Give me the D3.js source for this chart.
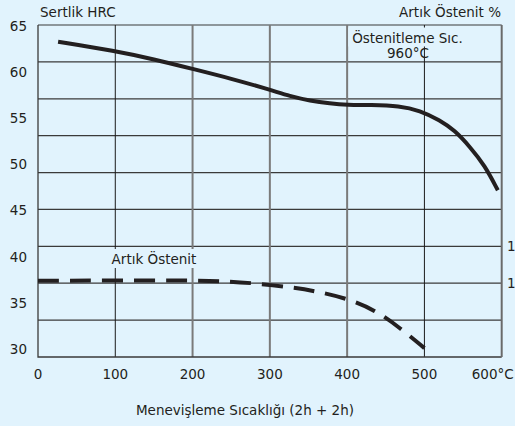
<!DOCTYPE html>
<html>
<head>
<meta charset="utf-8">
<script src="https://cdn.jsdelivr.net/npm/d3@7"></script>
<style>
  body { margin: 0; background: #e1f3fd; }
  svg { display: block; }
  text { font-family: "DejaVu Sans", Verdana, sans-serif; font-size: 13.5px; fill: #231f20; }
</style>
</head>
<body>
<div id="chart"></div>
<script>
// hardness curve (HRC) vs tempering temperature
var hardTemp = [26, 100, 150, 200, 250, 300, 326, 352, 378, 400, 430, 468, 494, 520, 539, 559, 578, 595];
var hardHRC  = [63.3, 62.3, 61.4, 60.35, 59.3, 58.1, 57.4, 56.9, 56.6, 56.45, 56.45, 56.35, 55.85, 54.8, 53.7, 51.9, 49.9, 47.2];

// retained austenite (%) vs tempering temperature
var austTemp = [0, 100, 200, 250, 289, 331, 358, 398, 436, 469, 500];
var austPct  = [10.35, 10.35, 10.4, 10.25, 9.9, 9.4, 8.95, 8.0, 6.4, 3.9, 1.2];

var xTicks = [0, 100, 200, 300, 400, 500];
var hrcTicks = [30, 35, 40, 45, 50, 55, 60, 65];
var pctTicks = [10, 15];
var pctLabels = ["1", "1"]; // only the first digit shows at the page edge

var width = 515, height = 426;
var bg = "#e1f3fd";

var svg = d3.select("#chart")
  .append("svg")
    .attr("width", width)
    .attr("height", height);

var x = d3.scaleLinear().domain([0, 600]).range([38, 501.7]);
var pct = d3.scaleLinear().domain([0, 45]).range([357, 25]);
var hrc = d3.scaleLinear().domain([30, 65]).range([349, 26]);

// horizontal grid (percentage scale)
svg.append("g")
  .selectAll("line")
  .data(d3.range(5, 50, 5))
  .enter()
  .append("line")
    .attr("x1", x(0))
    .attr("x2", x(600))
    .attr("y1", function(d) { return pct(d); })
    .attr("y2", function(d) { return pct(d); })
    .attr("stroke", "#3a3a3a")
    .attr("stroke-width", 1.2);

// vertical grid
svg.append("g")
  .selectAll("line")
  .data([100, 200, 300, 400, 500])
  .enter()
  .append("line")
    .attr("x1", function(d) { return x(d); })
    .attr("x2", function(d) { return x(d); })
    .attr("y1", pct(45))
    .attr("y2", pct(0))
    .attr("stroke", function(d) { return (d == 100 || d == 500) ? "#1a1a1a" : "#7a7a7a"; })
    .attr("stroke-width", function(d) { return (d == 100 || d == 500) ? 1 : 2; });

// frame: left + bottom dark, right gray
svg.append("path")
  .attr("d", "M" + x(0) + "," + pct(45) + "V" + pct(0) + "H" + x(600))
  .attr("fill", "none")
  .attr("stroke", "#3a3a3a")
  .attr("stroke-width", 1.3);
svg.append("line")
  .attr("x1", x(600)).attr("x2", x(600))
  .attr("y1", pct(45)).attr("y2", pct(0))
  .attr("stroke", "#6a6a6a")
  .attr("stroke-width", 2);

// left axis labels (HRC)
svg.append("g")
  .selectAll("text")
  .data(hrcTicks)
  .enter()
  .append("text")
    .attr("x", 27)
    .attr("y", function(d) { return hrc(d); })
    .attr("dy", "0.36em")
    .style("text-anchor", "end")
    .text(function(d) { return d; });

// right axis labels (%)
svg.append("g")
  .selectAll("text")
  .data(pctTicks)
  .enter()
  .append("text")
    .attr("x", 507)
    .attr("y", function(d) { return pct(d); })
    .attr("dy", "0.36em")
    .text(function(d, i) { return pctLabels[i]; });

// x axis labels
svg.append("g")
  .selectAll("text")
  .data(xTicks)
  .enter()
  .append("text")
    .attr("x", function(d) { return x(d); })
    .attr("y", 378.5)
    .style("text-anchor", "middle")
    .text(function(d) { return d; });
svg.append("text")
  .attr("x", x(600) - 9)
  .attr("y", 378.5)
  .style("text-anchor", "middle")
  .text("600°C");

svg.append("text")
  .attr("x", 245)
  .attr("y", 415)
  .style("text-anchor", "middle")
  .text("Menevişleme Sıcaklığı (2h + 2h)");

svg.append("text")
  .attr("x", 40)
  .attr("y", 17)
  .text("Sertlik HRC");

svg.append("text")
  .attr("x", 501)
  .attr("y", 17)
  .style("text-anchor", "end")
  .text("Artık Östenit %");

// labels inside the plot, first line sits on a background patch over the grid
function boxedLabel(tx, ty, lines) {
  var g = svg.append("g");
  var r = g.append("rect").attr("fill", bg);
  var t = g.append("text")
    .attr("x", tx)
    .attr("y", ty)
    .style("text-anchor", "middle");
  lines.forEach(function(s, i) {
    t.append("tspan")
      .attr("x", tx + (i ? 0.5 : 0))
      .attr("dy", i ? 15.9 : 0)
      .text(s);
  });
  var b = t.select("tspan").node().getBBox();
  r.attr("x", b.x - 4).attr("y", b.y - 1)
   .attr("width", b.width + 8).attr("height", b.height + 2);
  return g;
}
boxedLabel(407.5, 42.5, ["Östenitleme Sıc.", "960°C"]);
boxedLabel(154, 264, ["Artık Östenit"]);

// hardness curve
var hardLine = d3.line()
  .x(function(d) { return x(d[0]); })
  .y(function(d) { return hrc(d[1]); })
  .curve(d3.curveBasis);
svg.append("path")
  .datum(d3.zip(hardTemp, hardHRC))
  .attr("d", hardLine)
  .attr("fill", "none")
  .attr("stroke", "#231f20")
  .attr("stroke-width", 4);

// retained austenite curve
var austLine = d3.line()
  .x(function(d) { return x(d[0]); })
  .y(function(d) { return pct(d[1]); })
  .curve(d3.curveBasis);
svg.append("path")
  .datum(d3.zip(austTemp, austPct))
  .attr("d", austLine)
  .attr("fill", "none")
  .attr("stroke", "#231f20")
  .attr("stroke-width", 4)
  .attr("stroke-dasharray", "21,11");
</script>
</body>
</html>
